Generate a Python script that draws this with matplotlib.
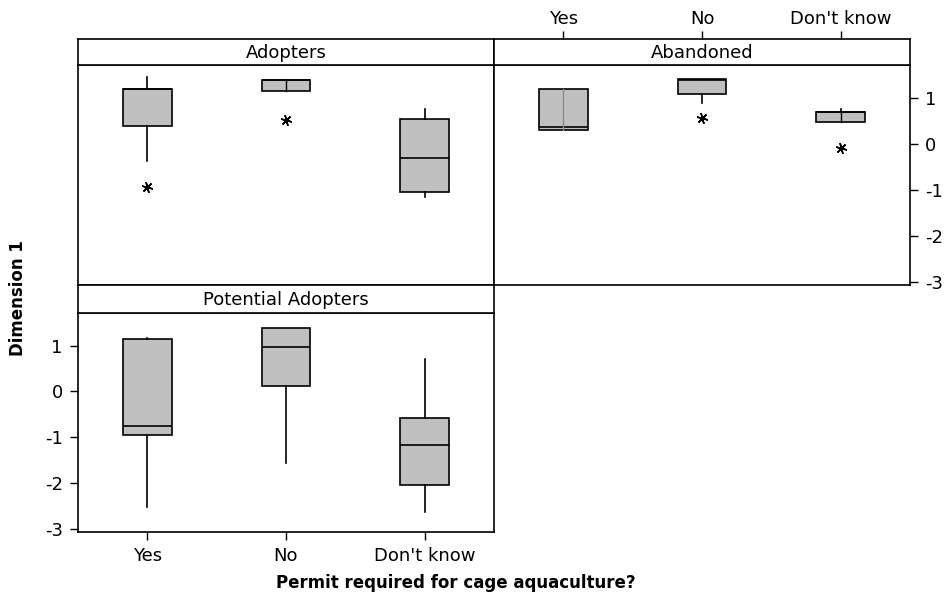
import matplotlib
matplotlib.use("Agg")
import matplotlib.pyplot as plt

plt.rcParams["font.family"] = ["DejaVu Sans"]
plt.rcParams["axes.unicode_minus"] = False

W, H = 945, 598

categories = ["Yes", "No", "Don't know"]
groups = ["Adopters", "Abandoned", "Potential Adopters"]

# box summaries per group: whisker low, Q1, median, Q3, whisker high
adopters_lo = [-0.38, 1.14, -1.15]
adopters_q1 = [0.38, 1.14, -1.04]
adopters_med = [1.18, 1.38, -0.30]
adopters_q3 = [1.18, 1.38, 0.54]
adopters_hi = [1.44, 1.38, 0.75]
adopters_out = [[-0.94], [0.51], []]

abandoned_lo = [0.30, 0.88, 0.48]
abandoned_q1 = [0.30, 1.09, 0.48]
abandoned_med = [0.37, 1.38, 0.68]
abandoned_q3 = [1.18, 1.41, 0.68]
abandoned_hi = [1.18, 1.41, 0.76]
abandoned_out = [[], [0.56], [-0.09]]

potential_lo = [-2.52, -1.57, -2.63]
potential_q1 = [-0.96, 0.11, -2.05]
potential_med = [-0.76, 0.96, -1.18]
potential_q3 = [1.15, 1.38, -0.58]
potential_hi = [1.17, 1.38, 0.71]
potential_out = [[], [], []]

# boxes that show a centre line through the box (colour, None = no line)
center_line = {
    "Adopters": [None, "black", None],
    "Abandoned": ["#8a8a8a", None, "black"],
    "Potential Adopters": [None, None, None],
}

yticks = [-3, -2, -1, 0, 1]


def stats(lo, q1, med, q3, hi, out):
    res = []
    for i in range(len(categories)):
        res.append({"whislo": lo[i], "q1": q1[i], "med": med[i], "q3": q3[i],
                    "whishi": hi[i], "fliers": out[i], "label": categories[i]})
    return res


data = {
    "Adopters": stats(adopters_lo, adopters_q1, adopters_med, adopters_q3, adopters_hi, adopters_out),
    "Abandoned": stats(abandoned_lo, abandoned_q1, abandoned_med, abandoned_q3, abandoned_hi, abandoned_out),
    "Potential Adopters": stats(potential_lo, potential_q1, potential_med, potential_q3, potential_hi, potential_out),
}


def px_axes(fig, x0, y0, x1, y1):
    # pixel box (top-left origin) -> figure axes
    return fig.add_axes([x0 / W, 1 - y1 / H, (x1 - x0) / W, (y1 - y0) / H])


fig = plt.figure(figsize=(W / 100, H / 100), dpi=100)

# (strip top, plot top, plot bottom, left, right)
layout = {
    "Adopters": (39, 65, 285, 78, 494),
    "Abandoned": (39, 65, 285, 494, 910),
    "Potential Adopters": (285, 313, 532, 78, 494),
}

lw = 1.2
fs = 13
for g in groups:
    st, pt, pb, xl, xr = layout[g]
    ax = px_axes(fig, xl, pt, xr, pb)
    ax.bxp(data[g], positions=[1, 2, 3], widths=0.35, patch_artist=True,
           showcaps=False,
           boxprops=dict(facecolor="#c0c0c0", edgecolor="black", linewidth=lw),
           medianprops=dict(color="black", linewidth=lw),
           whiskerprops=dict(color="black", linewidth=lw),
           flierprops=dict(marker=(6, 2, 15), markersize=8, markeredgecolor="black",
                           markeredgewidth=1.1, linestyle="none"))
    for i, s in enumerate(data[g]):
        c = center_line[g][i]
        if c:
            ax.plot([i + 1, i + 1], [s["q1"], s["q3"]], color=c, linewidth=1.0, zorder=3)
    ax.set_xlim(0.5, 3.5)
    ax.set_ylim(-3.07, 1.71)
    for sp in ax.spines.values():
        sp.set_linewidth(lw)
    ax.tick_params(length=6, width=1, labelsize=fs, pad=5)
    if g == "Adopters":
        ax.set_xticks([])
        ax.set_yticks([])
    elif g == "Abandoned":
        ax.set_yticks(yticks)
        ax.set_xticks([])
        ax.yaxis.tick_right()
    else:
        ax.set_yticks(yticks)
        ax.set_xticks([1, 2, 3])
        ax.set_xticklabels(categories)

    strip = px_axes(fig, xl, st, xr, pt)
    strip.set_xticks([])
    strip.set_yticks([])
    for sp in strip.spines.values():
        sp.set_linewidth(lw)
    strip.text(0.5, 0.45, g, ha="center", va="center", fontsize=fs, transform=strip.transAxes)

    if g == "Abandoned":
        # category labels above the strip
        top = px_axes(fig, xl, st, xr, st)
        top.set_xlim(0.5, 3.5)
        top.set_yticks([])
        for sp in top.spines.values():
            sp.set_visible(False)
        top.xaxis.tick_top()
        top.set_xticks([1, 2, 3])
        top.set_xticklabels(categories)
        top.tick_params(length=6, width=1, labelsize=fs, pad=2)
        top.patch.set_visible(False)

fig.text(18 / W, 1 - 298 / H, "Dimension 1", rotation=90, ha="center", va="center",
         fontsize=12, fontweight="bold")
fig.text(456 / W, 1 - 583 / H, "Permit required for cage aquaculture?", ha="center",
         va="center", fontsize=12, fontweight="bold")

fig.savefig("out.png", dpi=100)
